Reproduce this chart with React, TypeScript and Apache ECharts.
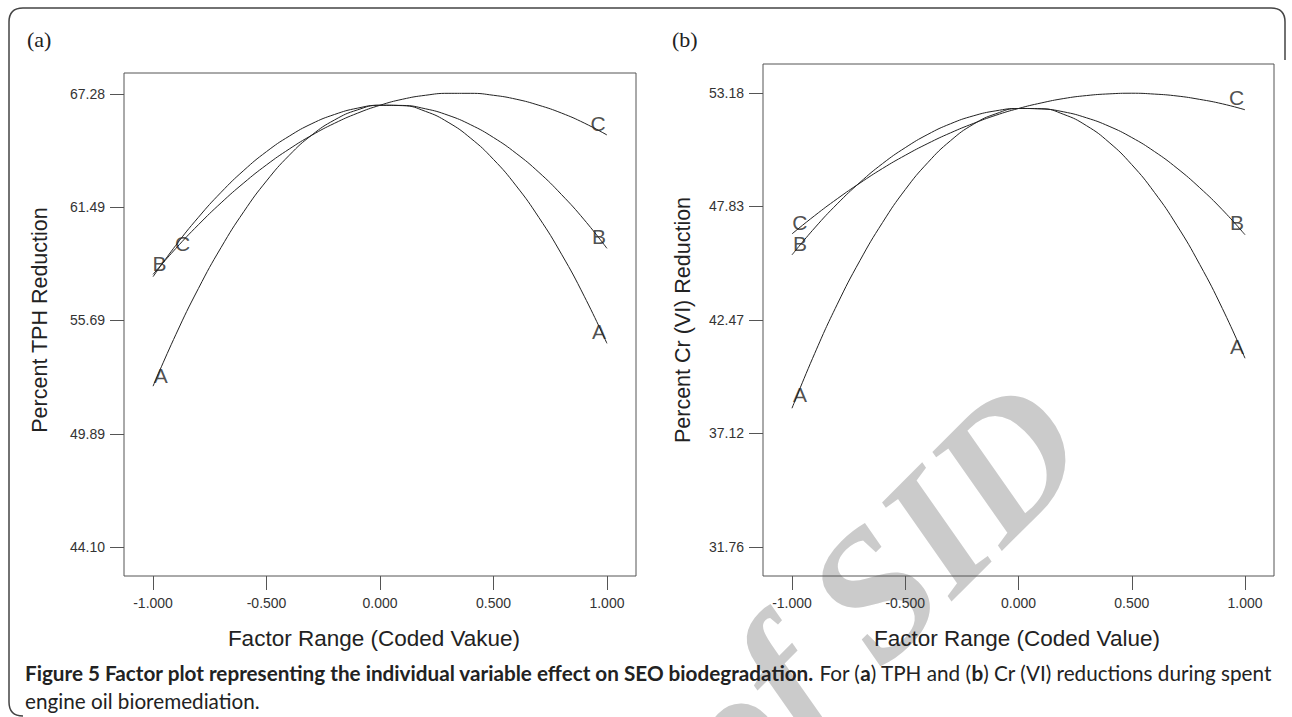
import React, { useEffect, useRef } from 'react';
import * as echarts from 'echarts';

// Coded factor levels at which the curves were read
const xCoded = [-1, -0.9, -0.8, -0.7, -0.6, -0.5, -0.4, -0.3, -0.2, -0.1, 0, 0.1, 0.2, 0.3, 0.4, 0.5, 0.6, 0.7, 0.8, 0.9, 1];

// (a) Percent TPH reduction
const tphA = [52.33, 54.96, 57.33, 59.43, 61.26, 62.83, 64.14, 65.18, 65.95, 66.46, 66.70, 66.68, 66.39, 65.83, 65.01, 63.93, 62.58, 60.96, 59.08, 56.93, 54.52];
const tphB = [57.93, 59.53, 60.97, 62.25, 63.37, 64.33, 65.12, 65.76, 66.23, 66.55, 66.70, 66.69, 66.52, 66.19, 65.70, 65.05, 64.24, 63.27, 62.13, 60.84, 59.38];
const tphC = [58.05, 59.37, 60.59, 61.71, 62.73, 63.65, 64.46, 65.17, 65.78, 66.29, 66.70, 67.01, 67.21, 67.31, 67.31, 67.21, 67.01, 66.70, 66.30, 65.79, 65.18];

// (b) Percent Cr (VI) reduction
const crA = [38.30, 40.88, 43.21, 45.27, 47.07, 48.62, 49.90, 50.93, 51.70, 52.20, 52.45, 52.44, 52.17, 51.64, 50.85, 49.80, 48.49, 46.92, 45.09, 43.01, 40.66];
const crB = [45.54, 46.81, 47.95, 48.96, 49.85, 50.60, 51.23, 51.73, 52.10, 52.34, 52.45, 52.43, 52.29, 52.01, 51.61, 51.08, 50.42, 49.63, 48.71, 47.67, 46.49];
const crC = [46.53, 47.39, 48.19, 48.93, 49.62, 50.24, 50.80, 51.30, 51.74, 52.13, 52.45, 52.71, 52.92, 53.06, 53.14, 53.17, 53.13, 53.04, 52.88, 52.67, 52.39];

// Tick values
const xTicks = [-1, -0.5, 0, 0.5, 1];
const tphTicks = [44.10, 49.89, 55.69, 61.49, 67.28];
const crTicks = [31.76, 37.12, 42.47, 47.83, 53.18];

// Curve letter labels [name, x, y]
const tphLetters: [string, number, number][] = [
  ['A', -0.966, 52.9], ['B', -0.972, 58.61], ['C', -0.87, 59.65],
  ['A', 0.965, 55.11], ['B', 0.965, 59.98], ['C', 0.961, 65.78],
];
const crLetters: [string, number, number][] = [
  ['A', -0.965, 38.93], ['B', -0.965, 46.09], ['C', -0.965, 47.07],
  ['A', 0.965, 41.21], ['B', 0.965, 47.07], ['C', 0.963, 52.99],
];

const captionBold = 'Figure 5 Factor plot representing the individual variable effect on SEO biodegradation.';
const captionLine2 = 'engine oil bioremediation.';

const SANS = 'Liberation Sans';
const CAP = 'Lato';
const INK = '#222';
const AXIS = '#555';

echarts.graphic.registerShape(
  'frame',
  echarts.graphic.extendPath('M23,716 Q9,716 9,702 L9,22 Q9,8 23,8 L1271,8 Q1285,8 1285,22 L1285,60', {})
);

function buildOption(capSize: number) {
  const pair = (ys: number[]) => xCoded.map((x, i) => [x, ys[i]]);
  const lineSeries = (ys: number[], gi: number) => ({
    type: 'line',
    xAxisIndex: gi,
    yAxisIndex: gi,
    data: pair(ys),
    smooth: true,
    showSymbol: false,
    silent: true,
    lineStyle: { color: INK, width: 1 },
  });
  const letterSeries = (letters: [string, number, number][], gi: number) => ({
    type: 'scatter',
    xAxisIndex: gi,
    yAxisIndex: gi,
    symbolSize: 2,
    silent: true,
    itemStyle: { color: 'rgba(0,0,0,0)' },
    data: letters.map(([n, x, y]) => ({ name: n, value: [x, y] })),
    label: {
      show: true,
      position: 'inside',
      formatter: '{b}',
      fontFamily: SANS,
      fontSize: 21,
      color: INK,
    },
    labelLayout: { hideOverlap: false },
    z: 5,
  });
  const xAxis = (gi: number) => ({
    gridIndex: gi,
    type: 'value',
    min: -1.128,
    max: 1.128,
    splitLine: { show: false },
    axisLine: { show: false, onZero: false },
    axisTick: { show: true, length: 14, inside: false, customValues: xTicks, lineStyle: { color: AXIS, width: 1 } },
    axisLabel: {
      customValues: xTicks,
      formatter: (v: number) => v.toFixed(3),
      margin: 20,
      fontSize: 14,
      fontFamily: SANS,
      color: '#333',
    },
  });
  const yAxis = (gi: number, min: number, max: number, ticks: number[]) => ({
    gridIndex: gi,
    type: 'value',
    min,
    max,
    splitLine: { show: false },
    axisLine: { show: false, onZero: false },
    axisTick: { show: true, length: 14, inside: false, customValues: ticks, lineStyle: { color: AXIS, width: 1 } },
    axisLabel: {
      customValues: ticks,
      formatter: (v: number) => v.toFixed(2),
      margin: 19,
      fontSize: 14,
      fontFamily: SANS,
      color: '#333',
    },
  });

  return {
    animation: false,
    backgroundColor: '#fff',
    grid: [
      { left: 124, top: 73, width: 512, height: 503, show: true, borderColor: AXIS, borderWidth: 1, backgroundColor: 'transparent' },
      { left: 763, top: 64, width: 511, height: 512, show: true, borderColor: AXIS, borderWidth: 1, backgroundColor: 'transparent' },
    ],
    xAxis: [xAxis(0), xAxis(1)],
    yAxis: [yAxis(0, 42.62, 68.35, tphTicks), yAxis(1, 30.38, 54.55, crTicks)],
    series: [
      lineSeries(tphA, 0), lineSeries(tphB, 0), lineSeries(tphC, 0),
      lineSeries(crA, 1), lineSeries(crB, 1), lineSeries(crC, 1),
      letterSeries(tphLetters, 0), letterSeries(crLetters, 1),
    ],
    graphic: [
      {
        type: 'text', x: 652, y: 814, rotation: Math.PI / 4, z: -10, silent: true,
        style: {
          text: 'Archive of SID', fontFamily: 'Liberation Serif', fontStyle: 'italic', fontWeight: 'bold',
          fontSize: 182, fill: '#cbcbcb', align: 'center', verticalAlign: 'middle',
        },
      },
      { type: 'frame', x: 0, y: 0, silent: true, style: { stroke: '#444', fill: 'none', lineWidth: 1.5 } },
      { type: 'text', x: 27, y: 39, style: { text: '(a)', fontFamily: 'Liberation Serif', fontSize: 22, fill: INK, align: 'left', verticalAlign: 'middle' } },
      { type: 'text', x: 672, y: 39, style: { text: '(b)', fontFamily: 'Liberation Serif', fontSize: 22, fill: INK, align: 'left', verticalAlign: 'middle' } },
      { type: 'text', x: 40, y: 320, rotation: Math.PI / 2, style: { text: 'Percent TPH Reduction', fontFamily: SANS, fontSize: 21.5, fill: INK, align: 'center', verticalAlign: 'middle' } },
      { type: 'text', x: 683, y: 320, rotation: Math.PI / 2, style: { text: 'Percent Cr (VI) Reduction', fontFamily: SANS, fontSize: 21.5, fill: INK, align: 'center', verticalAlign: 'middle' } },
      { type: 'text', x: 374, y: 638, style: { text: 'Factor Range (Coded Vakue)', fontFamily: SANS, fontSize: 22.5, fill: INK, align: 'center', verticalAlign: 'middle' } },
      { type: 'text', x: 1017, y: 638, style: { text: 'Factor Range (Coded Value)', fontFamily: SANS, fontSize: 22.5, fill: INK, align: 'center', verticalAlign: 'middle' } },
      {
        type: 'text', x: 25, y: 673,
        style: {
          text: `{b|${captionBold}}{r| For (}{b|a}{r|) TPH and (}{b|b}{r|) Cr (VI) reductions during spent}`,
          align: 'left', verticalAlign: 'middle',
          rich: {
            b: { fontFamily: CAP, fontWeight: 'bold', fontSize: capSize, fill: INK },
            r: { fontFamily: CAP, fontWeight: 'normal', fontSize: capSize, fill: INK },
          },
        },
      },
      { type: 'text', x: 25, y: 701, style: { text: captionLine2, fontFamily: CAP, fontSize: capSize, fill: INK, align: 'left', verticalAlign: 'middle' } },
    ],
  };
}

function fitCaption(): number {
  const c = document.createElement('canvas').getContext('2d');
  if (!c) return 17;
  c.font = `bold 100px ${CAP}`;
  const wb = c.measureText(captionBold).width + c.measureText('ab').width;
  c.font = `100px ${CAP}`;
  const wr = c.measureText(' For () TPH and () Cr (VI) reductions during spent').width;
  return (100 * 1248) / (wb + wr);
}

export default function App() {
  const ref = useRef<HTMLDivElement>(null);
  useEffect(() => {
    document.body.style.margin = '0';
    const chart = echarts.init(ref.current!, null, { renderer: 'svg' });
    chart.setOption(buildOption(fitCaption()) as any);
    return () => chart.dispose();
  }, []);
  return <div ref={ref} style={{ width: 1292, height: 717, background: '#fff' }} />;
}
